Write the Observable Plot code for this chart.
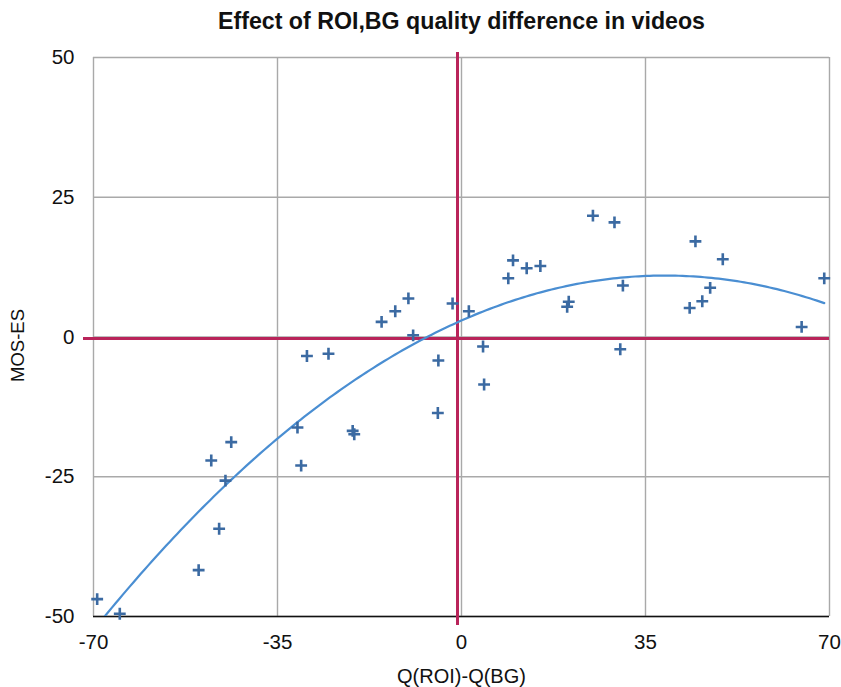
<!DOCTYPE html>
<html>
<head>
<meta charset="utf-8">
<script src="https://cdn.jsdelivr.net/npm/d3@7"></script>
<script src="https://cdn.jsdelivr.net/npm/@observablehq/plot@0.6"></script>
<style>
  html, body { margin: 0; padding: 0; background: #fff; }
  #chart svg { display: block; }
</style>
</head>
<body>
<div id="chart"></div>
<script>
// Quality difference between region of interest and background, per video
const qualityDiff = [
  -69.3, -65.0, -50.0, -46.1, -44.9, -47.6, -43.8, -31.2, -30.5, -29.4,
  -25.3, -20.7, -20.4, -15.2, -12.6, -10.1, -9.2, -4.4, -4.5, -1.7,
  1.4, 4.1, 4.3, 8.9, 9.8, 12.4, 15.0, 20.4, 20.1, 25.0,
  29.1, 30.7, 30.2, 43.4, 45.8, 47.3, 44.5, 49.7, 64.7, 69.0
];
// Mean opinion score difference (MOS-ES) for the same videos
const mosES = [
  -46.9, -49.5, -41.7, -34.3, -25.7, -22.1, -18.8, -16.2, -23.0, -3.4,
  -3.0, -16.8, -17.4, 2.7, 4.6, 6.9, 0.3, -4.2, -13.6, 6.0,
  4.6, -1.7, -8.5, 10.5, 13.7, 12.3, 12.7, 6.3, 5.4, 21.7,
  20.5, 9.2, -2.2, 5.2, 6.4, 8.8, 17.1, 13.9, 1.8, 10.5
];
const xTicks = [-70, -35, 0, 35, 70];
const yTicks = [-50, -25, 0, 25, 50];
const titleText = "Effect of ROI,BG quality difference in videos";
const xLabel = "Q(ROI)-Q(BG)";
const yLabel = "MOS-ES";

const points = qualityDiff.map((x, i) => ({x, y: mosES[i]}));

// Second-order polynomial trendline (least squares on the points)
function quadFit(pts) {
  let s0 = 0, s1 = 0, s2 = 0, s3 = 0, s4 = 0, t0 = 0, t1 = 0, t2 = 0;
  for (const {x, y} of pts) {
    const x2 = x * x;
    s0 += 1; s1 += x; s2 += x2; s3 += x2 * x; s4 += x2 * x2;
    t0 += y; t1 += x * y; t2 += x2 * y;
  }
  const A = [[s0, s1, s2, t0], [s1, s2, s3, t1], [s2, s3, s4, t2]];
  for (let c = 0; c < 3; c++) {
    for (let r = c + 1; r < 3; r++) {
      const f = A[r][c] / A[c][c];
      for (let k = c; k < 4; k++) A[r][k] -= f * A[c][k];
    }
  }
  const coef = [0, 0, 0];
  for (let r = 2; r >= 0; r--) {
    let s = A[r][3];
    for (let k = r + 1; k < 3; k++) s -= A[r][k] * coef[k];
    coef[r] = s / A[r][r];
  }
  return coef;
}
const [c0, c1, c2] = quadFit(points);
const [xmin, xmax] = d3.extent(qualityDiff);
const trend = d3.range(0, 201).map(i => {
  const x = xmin + (xmax - xmin) * i / 200;
  return {x, y: c0 + c1 * x + c2 * x * x};
});

const font = "'Liberation Sans', Arial, Helvetica, sans-serif";
const red = "#b9245a";
const plain = d => String(d); // hyphen-minus for negative ticks

const chart = Plot.plot({
  width: 841,
  height: 687,
  marginLeft: 93,
  marginRight: 12,
  marginTop: 57,
  marginBottom: 71,
  style: {fontFamily: font, fontSize: "20.5px", color: "#111", background: "#fff"},
  x: {domain: [-70, 70], ticks: xTicks, tickFormat: plain, tickSize: 0, tickPadding: 18, label: null},
  y: {domain: [-50, 50], ticks: yTicks, tickFormat: plain, tickSize: 0, tickPadding: 19, label: null},
  marks: [
    Plot.gridX(xTicks, {stroke: "#a9a9a9", strokeOpacity: 1, strokeWidth: 1.4}),
    Plot.gridY(yTicks, {stroke: "#a9a9a9", strokeOpacity: 1, strokeWidth: 1.4}),
    Plot.ruleY([-50], {stroke: "#111", strokeWidth: 1.6}),
    Plot.ruleX([0], {stroke: red, strokeWidth: 3, dx: -4, insetTop: -5, insetBottom: -9}),
    Plot.ruleY([0], {stroke: red, strokeWidth: 3, dy: 1.5, insetLeft: -10}),
    Plot.line(trend, {x: "x", y: "y", stroke: "#4a8ed2", strokeWidth: 2.2, clip: true}),
    Plot.dot(points, {x: "x", y: "y", symbol: "plus", r: 3.9, stroke: "#3b6aa2", strokeWidth: 2.6}),
    Plot.text([titleText], {frameAnchor: "top", dy: -45, fontWeight: "bold", fontSize: 23.2, fill: "#111"}),
    Plot.text([xLabel], {frameAnchor: "bottom", dy: 66, fontSize: 20, fill: "#111"}),
    Plot.text([yLabel], {frameAnchor: "left", dx: -75, dy: 45, rotate: -90, fontSize: 18.5, fill: "#111"})
  ]
});

document.getElementById("chart").appendChild(chart);
</script>
</body>
</html>
